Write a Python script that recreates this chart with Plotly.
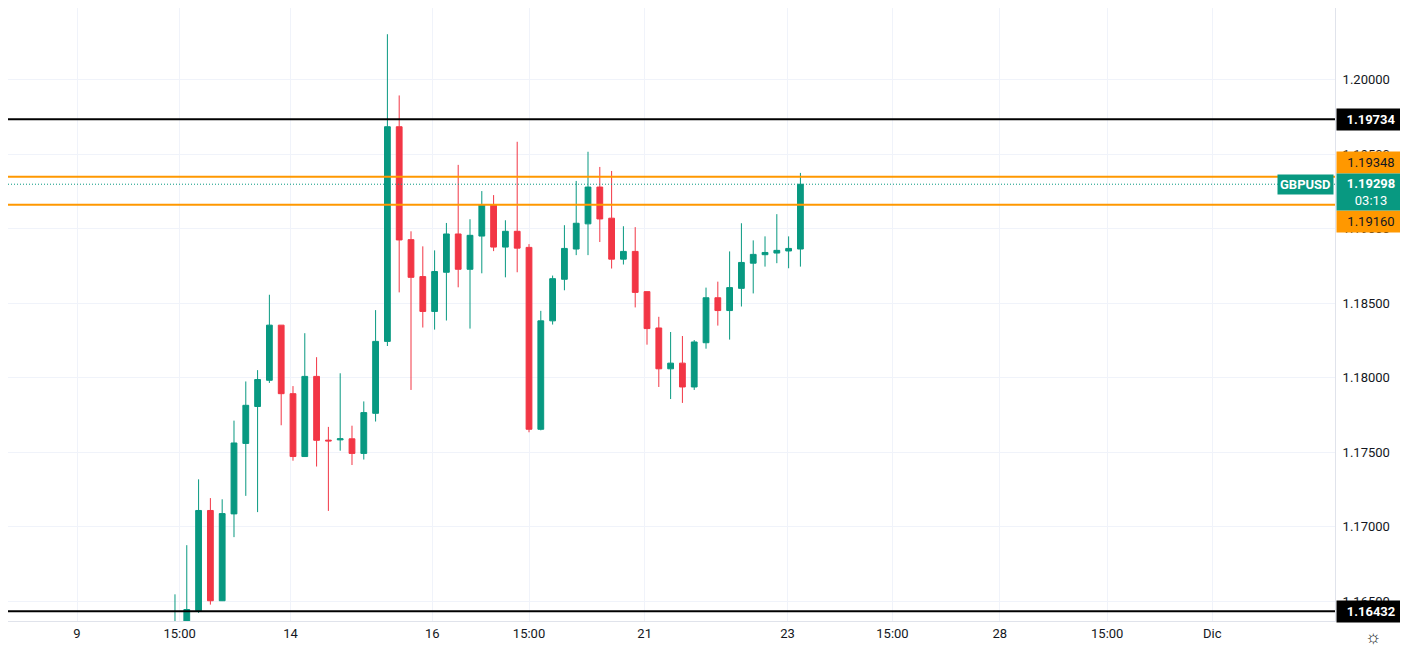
import plotly.graph_objects as go

# 4H candles, GBPUSD
opens = [1.1628, 1.1630, 1.16435, 1.17108, 1.16502, 1.17085, 1.17558, 1.17806, 1.17982, 1.18352,
         1.17892, 1.1747, 1.18008, 1.1758, 1.17582, 1.17589, 1.17491, 1.1776, 1.18243, 1.19684,
         1.18926, 1.18678, 1.18444, 1.18707, 1.18964, 1.18727, 1.1895, 1.1916, 1.18876, 1.18982,
         1.18874, 1.17653, 1.18381, 1.1866, 1.18863, 1.19032, 1.19279, 1.1907, 1.18795, 1.18847,
         1.18577, 1.18333, 1.18059, 1.18097, 1.17937, 1.18234, 1.18536, 1.1845, 1.18599, 1.18768,
         1.18825, 1.18836, 1.1885, 1.18863]
highs = [1.16545, 1.16875, 1.17317, 1.17191, 1.17183, 1.17711, 1.17974, 1.1805, 1.18556, 1.18352,
         1.17943, 1.18298, 1.18137, 1.17669, 1.18029, 1.17677, 1.1784, 1.18453, 1.20305, 1.19894,
         1.18982, 1.18881, 1.18854, 1.19038, 1.19428, 1.19063, 1.19252, 1.19225, 1.19056, 1.19583,
         1.18896, 1.18448, 1.18685, 1.19023, 1.1932, 1.19516, 1.19414, 1.19387, 1.19016, 1.1901,
         1.18577, 1.18408, 1.18306, 1.18279, 1.18252, 1.18604, 1.18644, 1.18847, 1.19036, 1.18921,
         1.18948, 1.19097, 1.18948, 1.19374]
lows = [1.1620, 1.1625, 1.1642, 1.16476, 1.1650, 1.16929, 1.17206, 1.17097, 1.17964, 1.1768,
        1.17442, 1.1747, 1.17403, 1.17105, 1.17509, 1.17413, 1.1745, 1.17705, 1.18212, 1.18572,
        1.17917, 1.18336, 1.18322, 1.18383, 1.18606, 1.18329, 1.187, 1.18849, 1.18673, 1.18707,
        1.17633, 1.17646, 1.18356, 1.18586, 1.18822, 1.18822, 1.1891, 1.18732, 1.18759, 1.18471,
        1.18221, 1.17937, 1.17856, 1.1783, 1.17917, 1.18194, 1.18349, 1.18255, 1.18477, 1.18565,
        1.18745, 1.18768, 1.18734, 1.18745]
closes = [1.1634, 1.16443, 1.17108, 1.16502, 1.17087, 1.17561, 1.17814, 1.17987, 1.18352, 1.17892,
          1.1747, 1.18008, 1.17579, 1.17575, 1.17589, 1.17491, 1.17765, 1.18243, 1.19684, 1.18924,
          1.18673, 1.18444, 1.18712, 1.18964, 1.18727, 1.18955, 1.1916, 1.18876, 1.18982, 1.18869,
          1.17653, 1.18381, 1.18664, 1.18867, 1.19036, 1.19279, 1.19065, 1.18795, 1.18847, 1.18572,
          1.18329, 1.18059, 1.18097, 1.17937, 1.18239, 1.18536, 1.1845, 1.18604, 1.18773, 1.18827,
          1.1884, 1.18854, 1.18867, 1.19298]

tick_pos = [-8.3, 0.4, 9.8, 21.8, 30.0, 39.8, 51.9, 60.8, 69.9, 79.0, 87.9]
tick_text = ["9", "15:00", "14", "16", "15:00", "21", "23", "15:00", "28", "15:00", "Dic"]

black_levels = [1.19734, 1.16432]
orange_levels = [1.19348, 1.19160]
last_price = 1.19298

GREEN = "#089981"
RED = "#F23645"
ORANGE = "#FF9800"

fig = go.Figure()
fig.add_trace(go.Candlestick(
    x=list(range(len(opens))), open=opens, high=highs, low=lows, close=closes,
    increasing=dict(line=dict(color=GREEN, width=1), fillcolor=GREEN),
    decreasing=dict(line=dict(color=RED, width=1), fillcolor=RED),
    whiskerwidth=0, showlegend=False, hoverinfo="skip",
))

for lv in black_levels:
    fig.add_hline(y=lv, line=dict(color="black", width=2))
for lv in orange_levels:
    fig.add_hline(y=lv, line=dict(color=ORANGE, width=2))
fig.add_hline(y=last_price, line=dict(color=GREEN, width=1, dash="1px,2px"))

# price tags on the scale
def tag(y, text, bg, fg="white", yshift=0, height=19):
    fig.add_annotation(x=1, xref="paper", y=y, yref="y", text=text, showarrow=False,
                       xanchor="left", xshift=1, yshift=yshift, bgcolor=bg,
                       font=dict(color=fg, size=13, family="Roboto"),
                       borderpad=1, width=66, height=height, align="center")

for lv in black_levels:
    tag(lv, "<b>%.5f</b>" % lv, "black")
tag(orange_levels[0], "%.5f" % orange_levels[0], ORANGE, "#131722", yshift=14)
tag(orange_levels[1], "%.5f" % orange_levels[1], ORANGE, "#131722", yshift=-17)
tag(last_price, "<b>%.5f</b><br>03:13" % last_price, GREEN, yshift=-8, height=34)
fig.add_annotation(x=1, xref="paper", y=last_price, yref="y", text="<b>GBPUSD</b>",
                   showarrow=False, xanchor="right", xshift=-1, bgcolor=GREEN,
                   font=dict(color="white", size=13, family="Roboto"), borderpad=2)
fig.add_annotation(x=1, xref="paper", y=0, yref="paper", text="☼", showarrow=False,
                   xanchor="left", yanchor="top", xshift=28, yshift=-1,
                   font=dict(color="#131722", size=18))

fig.update_layout(
    width=1408, height=647,
    margin=dict(l=0, r=81, t=0, b=34),
    plot_bgcolor="white", paper_bgcolor="white",
    xaxis=dict(range=[-14.15, 98.3], tickvals=tick_pos, ticktext=tick_text,
               showgrid=True, gridcolor="#f0f3fa", zeroline=False,
               rangeslider_visible=False, tickfont=dict(color="#131722", size=13, family="Roboto"),
               showline=True, linecolor="#e0e3eb", mirror=False),
    yaxis=dict(side="right", range=[1.16366, 1.20481], dtick=0.005, tick0=1.165,
               tickformat=".5f", showgrid=True, gridcolor="#f0f3fa", zeroline=False,
               tickfont=dict(color="#131722", size=13, family="Roboto"),
               showline=True, linecolor="#e0e3eb", ticklabelstandoff=4),
)

fig.write_html("out.html")
